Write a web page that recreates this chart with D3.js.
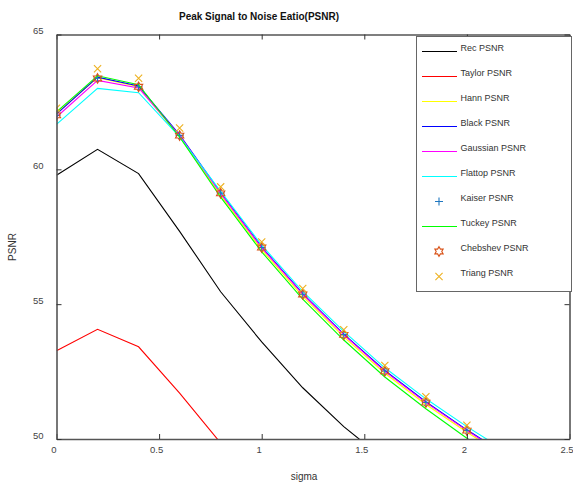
<!DOCTYPE html>
<html>
<head>
<meta charset="utf-8">
<script src="https://cdn.jsdelivr.net/npm/d3@7"></script>
<style>
  html, body { margin: 0; padding: 0; background: #fff; }
  svg { display: block; font-family: "Liberation Sans", Arial, sans-serif; }
</style>
</head>
<body>
<svg id="chart" width="573" height="485"></svg>
<script>
// noise level on the x axis
const sigma = [0, 0.2, 0.4, 0.6, 0.8, 1.0, 1.2, 1.4, 1.6, 1.8, 2.0, 2.2];

// PSNR per window (dB); null = not computed past the axis floor
const recPSNR      = [59.78, 60.74, 59.84, 57.70, 55.46, 53.60, 51.90, 50.46, 49.23, null, null, null];
const taylorPSNR   = [53.27, 54.07, 53.42, 51.70, 49.85, null, null, null, null, null, null, null];
const hannPSNR     = [62.08, 63.40, 63.06, 61.20, 59.04, 57.02, 55.29, 53.79, 52.44, 51.28, 50.25, 49.28];
const blackPSNR    = [62.05, 63.42, 63.09, 61.28, 59.14, 57.12, 55.39, 53.89, 52.54, 51.38, 50.34, 49.37];
const gaussianPSNR = [61.94, 63.30, 63.02, 61.25, 59.10, 57.09, 55.36, 53.86, 52.51, 51.35, 50.31, 49.34];
const flattopPSNR  = [61.67, 63.00, 62.84, 61.20, 59.18, 57.19, 55.47, 53.99, 52.64, 51.49, 50.46, 49.50];
const kaiserPSNR   = [62.00, 63.38, 63.06, 61.26, 59.12, 57.10, 55.37, 53.87, 52.52, 51.36, 50.32, 49.35];
const tuckeyPSNR   = [62.13, 63.47, 63.14, 61.20, 58.97, 56.94, 55.19, 53.67, 52.30, 51.12, 50.03, 49.05];
const chebshevPSNR = [62.00, 63.37, 63.06, 61.25, 59.11, 57.10, 55.36, 53.86, 52.51, 51.35, 50.31, 49.34];
const triangPSNR   = [62.27, 63.73, 63.38, 61.53, 59.35, 57.31, 55.58, 54.05, 52.73, 51.57, 50.51, 49.53];

const xTicks = [0, 0.5, 1, 1.5, 2, 2.5];
const yTicks = [50, 55, 60, 65];

const seriesNames = ["Rec PSNR", "Taylor PSNR", "Hann PSNR", "Black PSNR", "Gaussian PSNR",
                     "Flattop PSNR", "Kaiser PSNR", "Tuckey PSNR", "Chebshev PSNR", "Triang PSNR"];

// how each series is drawn: as a line or as markers
const series = [
  { name: seriesNames[0], values: recPSNR,      kind: "line",   color: "#000000" },
  { name: seriesNames[1], values: taylorPSNR,   kind: "line",   color: "#ff0000" },
  { name: seriesNames[2], values: hannPSNR,     kind: "line",   color: "#ffff00" },
  { name: seriesNames[3], values: blackPSNR,    kind: "line",   color: "#0000ff" },
  { name: seriesNames[4], values: gaussianPSNR, kind: "line",   color: "#ff00ff" },
  { name: seriesNames[5], values: flattopPSNR,  kind: "line",   color: "#00ffff" },
  { name: seriesNames[6], values: kaiserPSNR,   kind: "plus",   color: "#1f77c0" },
  { name: seriesNames[7], values: tuckeyPSNR,   kind: "line",   color: "#00ff00" },
  { name: seriesNames[8], values: chebshevPSNR, kind: "hexa",   color: "#d95319" },
  { name: seriesNames[9], values: triangPSNR,   kind: "cross",  color: "#edb120" }
];

const svg = d3.select("#chart");
const plotLeft = 56.5, plotRight = 569.5, plotTop = 34.5, plotBottom = 439;

const x = d3.scaleLinear().domain([0, 2.5]).range([plotLeft, plotRight]);
const y = d3.scaleLinear().domain([50, 65]).range([plotBottom, plotTop]);

svg.append("defs").append("clipPath").attr("id", "plotArea")
  .append("rect").attr("x", plotLeft).attr("y", plotTop)
  .attr("width", plotRight - plotLeft).attr("height", plotBottom - plotTop);

// marker shapes
function plusPath(s) { return `M${-s},0H${s}M0,${-s}V${s}`; }
function crossPath(s) { return `M${-s},${-s}L${s},${s}M${-s},${s}L${s},${-s}`; }
function hexaPath(ro) {
  const ri = ro * 0.58;
  let p = "";
  for (let i = 0; i < 12; i++) {
    const r = i % 2 === 0 ? ro : ri;
    const a = -Math.PI / 2 + i * Math.PI / 6;
    p += (i === 0 ? "M" : "L") + (r * Math.cos(a)).toFixed(2) + "," + (r * Math.sin(a)).toFixed(2);
  }
  return p + "Z";
}
function markerPath(kind) {
  if (kind === "plus") return plusPath(4);
  if (kind === "cross") return crossPath(3.6);
  return hexaPath(4.8);
}

const plot = svg.append("g").attr("clip-path", "url(#plotArea)");
const line = d3.line()
  .defined(d => d[1] != null)
  .x(d => x(d[0])).y(d => y(d[1]));

series.forEach(s => {
  const pts = sigma.map((v, i) => [v, s.values[i]]);
  if (s.kind === "line") {
    plot.append("path").datum(pts)
      .attr("fill", "none").attr("stroke", s.color).attr("stroke-width", 1.1)
      .attr("d", line);
  } else {
    plot.append("g").selectAll("path")
      .data(pts.filter(d => d[1] != null))
      .join("path")
      .attr("transform", d => `translate(${x(d[0])},${y(d[1])})`)
      .attr("d", markerPath(s.kind))
      .attr("fill", "none").attr("stroke", s.color).attr("stroke-width", 1.1);
  }
});

// axes: ticks point inward on all four sides
function styleAxis(g) {
  g.select(".domain").attr("stroke", "#555").attr("stroke-width", 1.6);
  g.selectAll(".tick line").attr("stroke", "#333").attr("stroke-width", 1);
  g.selectAll(".tick text").attr("fill", "#444").style("font-size", "9.5px")
    .style("font-family", "'Liberation Sans', Arial, sans-serif");
}

svg.append("g").attr("transform", `translate(0,${plotBottom})`)
  .call(d3.axisBottom(x).tickValues(xTicks).tickFormat(d => String(d))
    .tickSizeInner(-5).tickSizeOuter(0).tickPadding(14))
  .call(styleAxis)
  .call(g => g.selectAll(".tick text").attr("dx", -3).attr("dy", 0));

svg.append("g").attr("transform", `translate(0,${plotTop})`)
  .call(d3.axisTop(x).tickValues(xTicks).tickSizeInner(-5).tickSizeOuter(0).tickFormat(""))
  .call(styleAxis);

svg.append("g").attr("transform", `translate(${plotLeft},0)`)
  .call(d3.axisLeft(y).tickValues(yTicks).tickFormat(d => String(d))
    .tickSizeInner(-5).tickSizeOuter(0).tickPadding(13))
  .call(styleAxis)
  .call(g => g.selectAll(".tick text").attr("dy", "-0.1em"));

svg.append("g").attr("transform", `translate(${plotRight},0)`)
  .call(d3.axisRight(y).tickValues(yTicks).tickSizeInner(-5).tickSizeOuter(0).tickFormat(""))
  .call(styleAxis);

// title and axis labels
svg.append("text").attr("x", 259).attr("y", 20).attr("text-anchor", "middle")
  .style("font-size", "10px").style("font-weight", "bold").attr("fill", "#111")
  .text("Peak Signal to Noise Eatio(PSNR)");

svg.append("text").attr("x", 304).attr("y", 480).attr("text-anchor", "middle")
  .style("font-size", "10px").attr("fill", "#333").text("sigma");

svg.append("text").attr("transform", "translate(16,247) rotate(-90)").attr("text-anchor", "middle")
  .style("font-size", "10px").attr("fill", "#333").text("PSNR");

// legend
const lg = svg.append("g");
lg.append("rect").attr("x", 416.5).attr("y", 36.5).attr("width", 155).attr("height", 255)
  .attr("fill", "#fff").attr("stroke", "#666").attr("stroke-width", 1);

series.forEach((s, i) => {
  const ry = 51.5 + i * 25;
  if (s.kind === "line") {
    lg.append("line").attr("x1", 422).attr("x2", 457).attr("y1", ry).attr("y2", ry)
      .attr("stroke", s.color).attr("stroke-width", 1.1);
  } else {
    lg.append("path").attr("transform", `translate(439,${ry})`)
      .attr("d", markerPath(s.kind)).attr("fill", "none")
      .attr("stroke", s.color).attr("stroke-width", 1.1);
  }
  lg.append("text").attr("x", 460.5).attr("y", ry - 1).style("font-size", "9px")
    .attr("fill", "#333").text(s.name);
});
</script>
</body>
</html>
